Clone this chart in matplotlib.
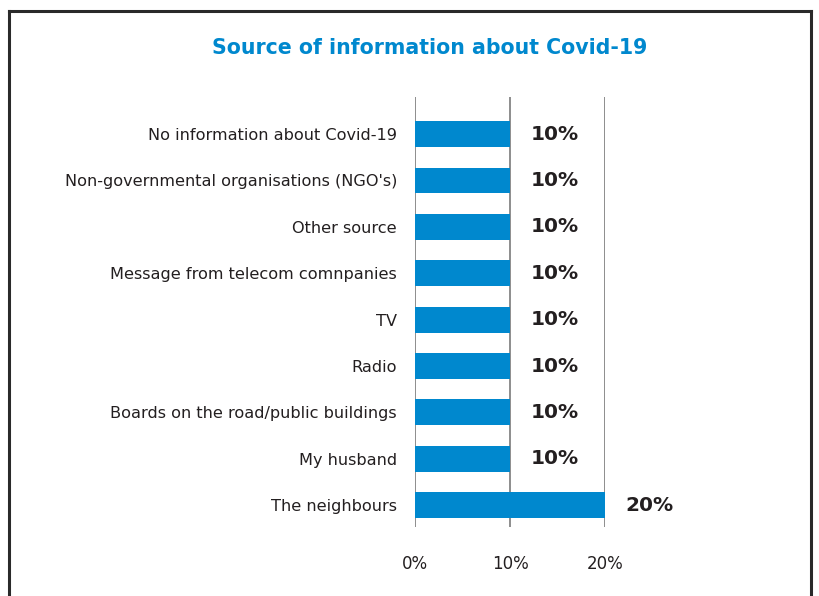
import matplotlib
matplotlib.use("Agg")
import matplotlib.pyplot as plt
import matplotlib.transforms as mtransforms
from matplotlib.lines import Line2D

categories = [
    "No information about Covid-19",
    "Non-governmental organisations (NGO's)",
    "Other source",
    "Message from telecom comnpanies",
    "TV",
    "Radio",
    "Boards on the road/public buildings",
    "My husband",
    "The neighbours",
]
values = [10, 10, 10, 10, 10, 10, 10, 10, 20]
xticks = [0, 10, 20]
xtick_labels = ["0%", "10%", "20%"]
title = "Source of information about Covid-19"

W, H = 819, 596
fig = plt.figure(figsize=(W / 100, H / 100), dpi=100)
plt.rcParams['font.family'] = ['DejaVu Sans']

ax = fig.add_axes([415 / W, 1 - 527 / H, (605 - 415) / W, (527 - 97) / H])
y = list(range(len(categories)))
ax.barh(y, values, height=0.56, color="#0088CE", zorder=2)
for xv in xticks:
    ax.axvline(xv, color="#7a7a7a", lw=1.2, zorder=1, snap=True)
ax.set_xlim(0, 20)
ax.set_ylim(8.47, -0.80)
for s in ax.spines.values():
    s.set_visible(False)
ax.set_yticks(y)
ax.set_yticklabels(categories, fontsize=11.6, color="#231f20")
shift = mtransforms.ScaledTranslation(0, 3 / 100, fig.dpi_scale_trans)
for lab in ax.get_yticklabels():
    lab.set_transform(lab.get_transform() + shift)
ax.tick_params(axis="y", length=0, pad=13)
ax.set_xticks(xticks)
ax.set_xticklabels(xtick_labels, fontsize=12, color="#231f20")
ax.tick_params(axis="x", length=0, pad=20)

for yi, v in zip(y, values):
    ax.annotate(f"{v}%", xy=(v, yi), xytext=(15, 0), textcoords="offset points",
                ha="left", va="center", fontsize=14.5, fontweight="bold",
                color="#231f20", clip_on=False)

fig.text(430 / W, 1 - 48 / H, title, ha="center", va="center",
         fontsize=14.8, fontweight="bold", color="#0088CE")

# frame
c = "#2a2a2a"
lw = 2.2
fig.add_artist(Line2D([9 / W, 9 / W], [0, 1 - 11 / H], color=c, lw=lw, transform=fig.transFigure))
fig.add_artist(Line2D([811 / W, 811 / W], [0, 1 - 11 / H], color=c, lw=lw, transform=fig.transFigure))
fig.add_artist(Line2D([9 / W, 811 / W], [1 - 11 / H, 1 - 11 / H], color=c, lw=lw, transform=fig.transFigure))

fig.savefig("out.png", dpi=100, facecolor="white")
